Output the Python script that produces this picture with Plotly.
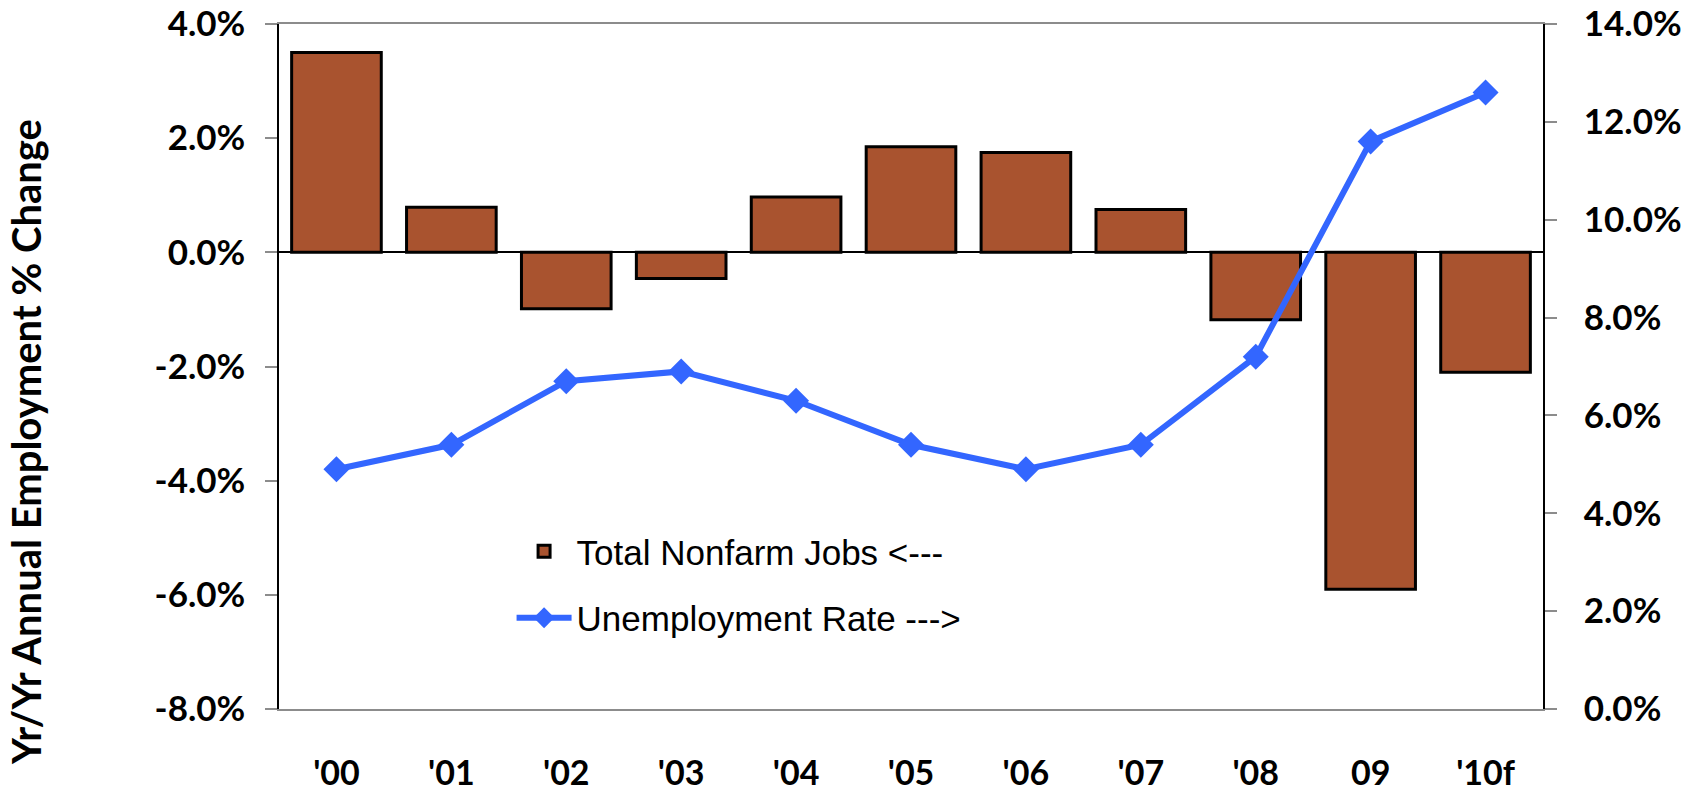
import plotly.graph_objects as go

categories = ["'00", "'01", "'02", "'03", "'04", "'05", "'06", "'07", "'08", "09", "'10f"]
nonfarm_jobs_pct = [3.50, 0.79, -0.99, -0.46, 0.97, 1.85, 1.75, 0.75, -1.18, -5.90, -2.10]
unemployment_rate = [4.9, 5.4, 6.7, 6.9, 6.3, 5.4, 4.9, 5.4, 7.2, 11.6, 12.6]
left_ticks = [-8, -6, -4, -2, 0, 2, 4]
right_ticks = [0, 2, 4, 6, 8, 10, 12, 14]

TICK_FONT = dict(family="Lato", size=35, color="black", weight="bold")
LEG_FONT = dict(family="Liberation Sans", size=35, color="black")
GREY = "#8c8c8c"

fig = go.Figure()
fig.add_trace(go.Bar(
    x=categories, y=nonfarm_jobs_pct, name="Total Nonfarm Jobs <---",
    marker=dict(color="#A9532F", line=dict(color="black", width=3)),
    legendgroup="a", yaxis="y",
))
fig.add_trace(go.Scatter(
    x=categories, y=unemployment_rate, name="Unemployment Rate --->",
    mode="lines+markers", yaxis="y2", legendgroup="b",
    line=dict(color="#3366FF", width=6),
    marker=dict(symbol="diamond", size=20, color="#3366FF"),
))

n = len(categories)
bounds = [i + 0.5 for i in range(n - 1)]
zero_pos = (0 - left_ticks[0]) / (left_ticks[-1] - left_ticks[0])

common_hidden = dict(showticklabels=False, showline=False, showgrid=False,
                     zeroline=False, automargin=False, tickcolor=GREY, tickwidth=1.5,
                     ticklen=12)

# page body has an 8px margin; the figure is sized to fit the window exactly
fig.update_layout(
    width=1682, height=781,
    margin=dict(l=271, r=147, t=16, b=80, autoexpand=False),
    plot_bgcolor="white", paper_bgcolor="white",
    bargap=0.22,
    showlegend=True,
    legend=dict(x=0.184, y=0.273, xanchor="left", yanchor="top",
                font=LEG_FONT, bgcolor="rgba(0,0,0,0)",
                traceorder="grouped", tracegroupgap=18, itemwidth=55),
    xaxis=dict(type="category", showline=True, linecolor=GREY, linewidth=1.5,
               mirror=True, ticks="", tickfont=dict(TICK_FONT, size=34),
               ticklabelstandoff=33, ticklabeloverflow="allow",
               showgrid=False, zeroline=False, range=[-0.5, n - 0.5], automargin=False),
    xaxis2=dict(overlaying="x", anchor="free", position=zero_pos, range=[-0.5, n - 0.5],
                tickmode="array", tickvals=bounds, ticks="outside", **common_hidden),
    xaxis3=dict(overlaying="x", anchor="free", position=zero_pos, range=[-0.5, n - 0.5],
                tickmode="array", tickvals=bounds, ticks="inside", **common_hidden),
    yaxis=dict(range=[left_ticks[0], left_ticks[-1]], tickvals=left_ticks,
               ticktext=[f"{v:.1f}%" for v in left_ticks],
               showline=True, linecolor="black", linewidth=1.5,
               ticks="outside", ticklen=12, tickcolor=GREY, tickwidth=1.5,
               tickfont=TICK_FONT, ticklabelstandoff=13, ticklabeloverflow="allow",
               automargin=False,
               showgrid=False, zeroline=True, zerolinecolor="black", zerolinewidth=1.5),
    yaxis3=dict(overlaying="y", side="left", range=[left_ticks[0], left_ticks[-1]],
                tickvals=left_ticks, ticks="inside", **common_hidden),
    yaxis2=dict(overlaying="y", side="right", range=[right_ticks[0], right_ticks[-1]],
                tickvals=right_ticks, ticktext=[f"{v:.1f}%" for v in right_ticks],
                showline=True, linecolor="black", linewidth=1.5,
                ticks="outside", ticklen=12, tickcolor=GREY, tickwidth=1.5,
                tickfont=TICK_FONT, ticklabelstandoff=20, ticklabeloverflow="allow",
                automargin=False, showgrid=False, zeroline=False),
    yaxis4=dict(overlaying="y", side="right", range=[right_ticks[0], right_ticks[-1]],
                tickvals=right_ticks, ticks="inside", **common_hidden),
    annotations=[dict(
        text="Yr/Yr Annual Employment % Change", textangle=-90,
        xref="paper", yref="paper", x=-0.2, y=0.39,
        xanchor="center", yanchor="middle", showarrow=False,
        font=dict(family="Lato", size=40, color="black", weight="bold"),
    )],
)

fig.write_html("out.html")
